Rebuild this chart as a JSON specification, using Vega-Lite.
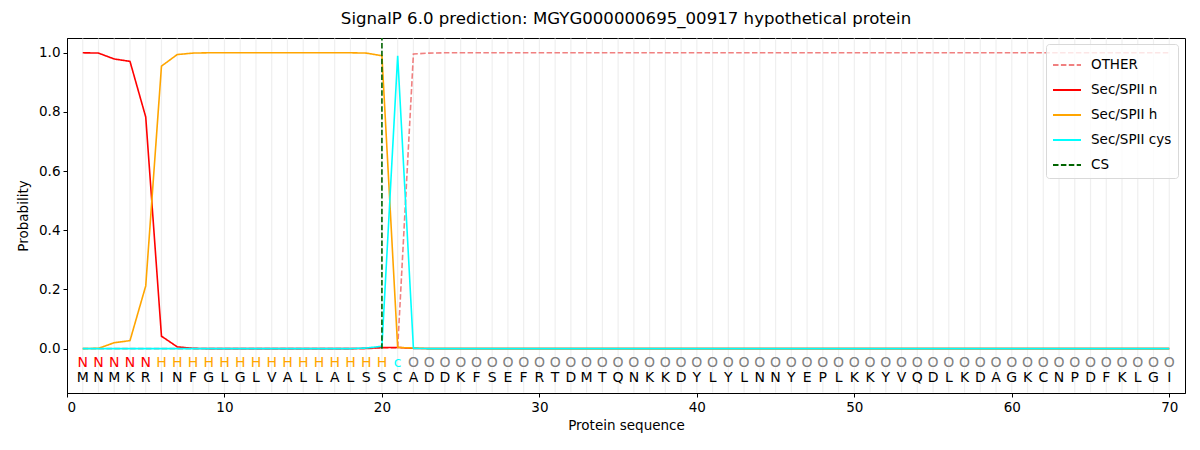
{
  "$schema": "https://vega.github.io/schema/vega-lite/v6.json",
  "autosize": "none",
  "width": 1118,
  "height": 355,
  "padding": {"left": 67, "top": 38, "right": 15, "bottom": 57},
  "background": "white",
  "title": {
    "text": "SignalP 6.0 prediction: MGYG000000695_00917 hypothetical protein",
    "font": "DejaVu Sans",
    "fontSize": 16.6,
    "fontWeight": "normal",
    "color": "black",
    "anchor": "middle",
    "offset": 7
  },
  "config": {
    "font": "DejaVu Sans",
    "view": {"stroke": "black", "strokeWidth": 1},
    "axis": {
      "labelFont": "DejaVu Sans",
      "titleFont": "DejaVu Sans",
      "labelFontSize": 13.5,
      "titleFontSize": 13.5,
      "titleFontWeight": "normal",
      "labelColor": "black",
      "titleColor": "black",
      "domainColor": "black",
      "tickColor": "black",
      "tickSize": 4,
      "grid": false
    }
  },
  "datasets": {
    "res": [
      {"pos": 1, "aa": "M", "lab": "N", "OTHER": 0, "Sec/SPII n": 1.0, "Sec/SPII h": 0, "Sec/SPII cys": 0},
      {"pos": 2, "aa": "N", "lab": "N", "OTHER": 0, "Sec/SPII n": 0.999, "Sec/SPII h": 0.001, "Sec/SPII cys": 0},
      {"pos": 3, "aa": "M", "lab": "N", "OTHER": 0, "Sec/SPII n": 0.979, "Sec/SPII h": 0.02, "Sec/SPII cys": 0},
      {"pos": 4, "aa": "K", "lab": "N", "OTHER": 0, "Sec/SPII n": 0.971, "Sec/SPII h": 0.027, "Sec/SPII cys": 0},
      {"pos": 5, "aa": "R", "lab": "N", "OTHER": 0, "Sec/SPII n": 0.783, "Sec/SPII h": 0.212, "Sec/SPII cys": 0},
      {"pos": 6, "aa": "I", "lab": "H", "OTHER": 0, "Sec/SPII n": 0.042, "Sec/SPII h": 0.955, "Sec/SPII cys": 0},
      {"pos": 7, "aa": "N", "lab": "H", "OTHER": 0, "Sec/SPII n": 0.006, "Sec/SPII h": 0.994, "Sec/SPII cys": 0},
      {"pos": 8, "aa": "F", "lab": "H", "OTHER": 0, "Sec/SPII n": 0.001, "Sec/SPII h": 0.999, "Sec/SPII cys": 0},
      {"pos": 9, "aa": "G", "lab": "H", "OTHER": 0, "Sec/SPII n": 0, "Sec/SPII h": 1.0, "Sec/SPII cys": 0},
      {"pos": 10, "aa": "L", "lab": "H", "OTHER": 0, "Sec/SPII n": 0, "Sec/SPII h": 1.0, "Sec/SPII cys": 0},
      {"pos": 11, "aa": "G", "lab": "H", "OTHER": 0, "Sec/SPII n": 0, "Sec/SPII h": 1.0, "Sec/SPII cys": 0},
      {"pos": 12, "aa": "L", "lab": "H", "OTHER": 0, "Sec/SPII n": 0, "Sec/SPII h": 1.0, "Sec/SPII cys": 0},
      {"pos": 13, "aa": "V", "lab": "H", "OTHER": 0, "Sec/SPII n": 0, "Sec/SPII h": 1.0, "Sec/SPII cys": 0},
      {"pos": 14, "aa": "A", "lab": "H", "OTHER": 0, "Sec/SPII n": 0, "Sec/SPII h": 1.0, "Sec/SPII cys": 0},
      {"pos": 15, "aa": "L", "lab": "H", "OTHER": 0, "Sec/SPII n": 0, "Sec/SPII h": 1.0, "Sec/SPII cys": 0},
      {"pos": 16, "aa": "L", "lab": "H", "OTHER": 0, "Sec/SPII n": 0, "Sec/SPII h": 1.0, "Sec/SPII cys": 0},
      {"pos": 17, "aa": "A", "lab": "H", "OTHER": 0, "Sec/SPII n": 0, "Sec/SPII h": 1.0, "Sec/SPII cys": 0},
      {"pos": 18, "aa": "L", "lab": "H", "OTHER": 0, "Sec/SPII n": 0, "Sec/SPII h": 1.0, "Sec/SPII cys": 0},
      {"pos": 19, "aa": "S", "lab": "H", "OTHER": 0, "Sec/SPII n": 0.001, "Sec/SPII h": 0.999, "Sec/SPII cys": 0.002},
      {"pos": 20, "aa": "S", "lab": "H", "OTHER": 0.002, "Sec/SPII n": 0.004, "Sec/SPII h": 0.99, "Sec/SPII cys": 0.008},
      {"pos": 21, "aa": "C", "lab": "c", "OTHER": 0.002, "Sec/SPII n": 0.004, "Sec/SPII h": 0.004, "Sec/SPII cys": 0.99},
      {"pos": 22, "aa": "A", "lab": "O", "OTHER": 0.996, "Sec/SPII n": 0.001, "Sec/SPII h": 0.002, "Sec/SPII cys": 0.001},
      {"pos": 23, "aa": "D", "lab": "O", "OTHER": 0.999, "Sec/SPII n": 0, "Sec/SPII h": 0, "Sec/SPII cys": 0},
      {"pos": 24, "aa": "D", "lab": "O", "OTHER": 1.0, "Sec/SPII n": 0, "Sec/SPII h": 0, "Sec/SPII cys": 0},
      {"pos": 25, "aa": "K", "lab": "O", "OTHER": 1.0, "Sec/SPII n": 0, "Sec/SPII h": 0, "Sec/SPII cys": 0},
      {"pos": 26, "aa": "F", "lab": "O", "OTHER": 1.0, "Sec/SPII n": 0, "Sec/SPII h": 0, "Sec/SPII cys": 0},
      {"pos": 27, "aa": "S", "lab": "O", "OTHER": 1.0, "Sec/SPII n": 0, "Sec/SPII h": 0, "Sec/SPII cys": 0},
      {"pos": 28, "aa": "E", "lab": "O", "OTHER": 1.0, "Sec/SPII n": 0, "Sec/SPII h": 0, "Sec/SPII cys": 0},
      {"pos": 29, "aa": "F", "lab": "O", "OTHER": 1.0, "Sec/SPII n": 0, "Sec/SPII h": 0, "Sec/SPII cys": 0},
      {"pos": 30, "aa": "R", "lab": "O", "OTHER": 1.0, "Sec/SPII n": 0, "Sec/SPII h": 0, "Sec/SPII cys": 0},
      {"pos": 31, "aa": "T", "lab": "O", "OTHER": 1.0, "Sec/SPII n": 0, "Sec/SPII h": 0, "Sec/SPII cys": 0},
      {"pos": 32, "aa": "D", "lab": "O", "OTHER": 1.0, "Sec/SPII n": 0, "Sec/SPII h": 0, "Sec/SPII cys": 0},
      {"pos": 33, "aa": "M", "lab": "O", "OTHER": 1.0, "Sec/SPII n": 0, "Sec/SPII h": 0, "Sec/SPII cys": 0},
      {"pos": 34, "aa": "T", "lab": "O", "OTHER": 1.0, "Sec/SPII n": 0, "Sec/SPII h": 0, "Sec/SPII cys": 0},
      {"pos": 35, "aa": "Q", "lab": "O", "OTHER": 1.0, "Sec/SPII n": 0, "Sec/SPII h": 0, "Sec/SPII cys": 0},
      {"pos": 36, "aa": "N", "lab": "O", "OTHER": 1.0, "Sec/SPII n": 0, "Sec/SPII h": 0, "Sec/SPII cys": 0},
      {"pos": 37, "aa": "K", "lab": "O", "OTHER": 1.0, "Sec/SPII n": 0, "Sec/SPII h": 0, "Sec/SPII cys": 0},
      {"pos": 38, "aa": "K", "lab": "O", "OTHER": 1.0, "Sec/SPII n": 0, "Sec/SPII h": 0, "Sec/SPII cys": 0},
      {"pos": 39, "aa": "D", "lab": "O", "OTHER": 1.0, "Sec/SPII n": 0, "Sec/SPII h": 0, "Sec/SPII cys": 0},
      {"pos": 40, "aa": "Y", "lab": "O", "OTHER": 1.0, "Sec/SPII n": 0, "Sec/SPII h": 0, "Sec/SPII cys": 0},
      {"pos": 41, "aa": "L", "lab": "O", "OTHER": 1.0, "Sec/SPII n": 0, "Sec/SPII h": 0, "Sec/SPII cys": 0},
      {"pos": 42, "aa": "Y", "lab": "O", "OTHER": 1.0, "Sec/SPII n": 0, "Sec/SPII h": 0, "Sec/SPII cys": 0},
      {"pos": 43, "aa": "L", "lab": "O", "OTHER": 1.0, "Sec/SPII n": 0, "Sec/SPII h": 0, "Sec/SPII cys": 0},
      {"pos": 44, "aa": "N", "lab": "O", "OTHER": 1.0, "Sec/SPII n": 0, "Sec/SPII h": 0, "Sec/SPII cys": 0},
      {"pos": 45, "aa": "N", "lab": "O", "OTHER": 1.0, "Sec/SPII n": 0, "Sec/SPII h": 0, "Sec/SPII cys": 0},
      {"pos": 46, "aa": "Y", "lab": "O", "OTHER": 1.0, "Sec/SPII n": 0, "Sec/SPII h": 0, "Sec/SPII cys": 0},
      {"pos": 47, "aa": "E", "lab": "O", "OTHER": 1.0, "Sec/SPII n": 0, "Sec/SPII h": 0, "Sec/SPII cys": 0},
      {"pos": 48, "aa": "P", "lab": "O", "OTHER": 1.0, "Sec/SPII n": 0, "Sec/SPII h": 0, "Sec/SPII cys": 0},
      {"pos": 49, "aa": "L", "lab": "O", "OTHER": 1.0, "Sec/SPII n": 0, "Sec/SPII h": 0, "Sec/SPII cys": 0},
      {"pos": 50, "aa": "K", "lab": "O", "OTHER": 1.0, "Sec/SPII n": 0, "Sec/SPII h": 0, "Sec/SPII cys": 0},
      {"pos": 51, "aa": "K", "lab": "O", "OTHER": 1.0, "Sec/SPII n": 0, "Sec/SPII h": 0, "Sec/SPII cys": 0},
      {"pos": 52, "aa": "Y", "lab": "O", "OTHER": 1.0, "Sec/SPII n": 0, "Sec/SPII h": 0, "Sec/SPII cys": 0},
      {"pos": 53, "aa": "V", "lab": "O", "OTHER": 1.0, "Sec/SPII n": 0, "Sec/SPII h": 0, "Sec/SPII cys": 0},
      {"pos": 54, "aa": "Q", "lab": "O", "OTHER": 1.0, "Sec/SPII n": 0, "Sec/SPII h": 0, "Sec/SPII cys": 0},
      {"pos": 55, "aa": "D", "lab": "O", "OTHER": 1.0, "Sec/SPII n": 0, "Sec/SPII h": 0, "Sec/SPII cys": 0},
      {"pos": 56, "aa": "L", "lab": "O", "OTHER": 1.0, "Sec/SPII n": 0, "Sec/SPII h": 0, "Sec/SPII cys": 0},
      {"pos": 57, "aa": "K", "lab": "O", "OTHER": 1.0, "Sec/SPII n": 0, "Sec/SPII h": 0, "Sec/SPII cys": 0},
      {"pos": 58, "aa": "D", "lab": "O", "OTHER": 1.0, "Sec/SPII n": 0, "Sec/SPII h": 0, "Sec/SPII cys": 0},
      {"pos": 59, "aa": "A", "lab": "O", "OTHER": 1.0, "Sec/SPII n": 0, "Sec/SPII h": 0, "Sec/SPII cys": 0},
      {"pos": 60, "aa": "G", "lab": "O", "OTHER": 1.0, "Sec/SPII n": 0, "Sec/SPII h": 0, "Sec/SPII cys": 0},
      {"pos": 61, "aa": "K", "lab": "O", "OTHER": 1.0, "Sec/SPII n": 0, "Sec/SPII h": 0, "Sec/SPII cys": 0},
      {"pos": 62, "aa": "C", "lab": "O", "OTHER": 1.0, "Sec/SPII n": 0, "Sec/SPII h": 0, "Sec/SPII cys": 0},
      {"pos": 63, "aa": "N", "lab": "O", "OTHER": 1.0, "Sec/SPII n": 0, "Sec/SPII h": 0, "Sec/SPII cys": 0},
      {"pos": 64, "aa": "P", "lab": "O", "OTHER": 1.0, "Sec/SPII n": 0, "Sec/SPII h": 0, "Sec/SPII cys": 0},
      {"pos": 65, "aa": "D", "lab": "O", "OTHER": 1.0, "Sec/SPII n": 0, "Sec/SPII h": 0, "Sec/SPII cys": 0},
      {"pos": 66, "aa": "F", "lab": "O", "OTHER": 1.0, "Sec/SPII n": 0, "Sec/SPII h": 0, "Sec/SPII cys": 0},
      {"pos": 67, "aa": "K", "lab": "O", "OTHER": 1.0, "Sec/SPII n": 0, "Sec/SPII h": 0, "Sec/SPII cys": 0},
      {"pos": 68, "aa": "L", "lab": "O", "OTHER": 1.0, "Sec/SPII n": 0, "Sec/SPII h": 0, "Sec/SPII cys": 0},
      {"pos": 69, "aa": "G", "lab": "O", "OTHER": 1.0, "Sec/SPII n": 0, "Sec/SPII h": 0, "Sec/SPII cys": 0},
      {"pos": 70, "aa": "I", "lab": "O", "OTHER": 1.0, "Sec/SPII n": 0, "Sec/SPII h": 0, "Sec/SPII cys": 0}
    ],
    "cs": [
      {"pos": 20, "p": 0, "series": "CS"},
      {"pos": 20, "p": 1.05, "series": "CS"}
    ]
  },
  "encoding": {
    "x": {
      "field": "pos",
      "type": "quantitative",
      "title": "Protein sequence",
      "scale": {"domain": [0, 71], "nice": false, "zero": false},
      "axis": {"values": [0, 10, 20, 30, 40, 50, 60, 70], "titlePadding": 5, "labelPadding": 3}
    }
  },
  "layer": [
    {
      "data": {"name": "res"},
      "mark": {"type": "rule", "color": "#efefef", "strokeWidth": 1.2},
      "encoding": {
        "y": {"datum": -0.148, "type": "quantitative", "scale": {"domain": [-0.15, 1.05], "nice": false, "zero": false}},
        "y2": {"datum": 1.048}
      }
    },
    {
      "data": {"name": "res"},
      "transform": [
        {"fold": ["OTHER", "Sec/SPII n", "Sec/SPII h", "Sec/SPII cys"], "as": ["series", "p"]}
      ],
      "mark": {"type": "line", "strokeWidth": 1.6},
      "encoding": {
        "y": {
          "field": "p",
          "type": "quantitative",
          "title": "Probability",
          "scale": {"domain": [-0.15, 1.05], "nice": false, "zero": false},
          "axis": {"values": [0, 0.2, 0.4, 0.6, 0.8, 1.0], "format": ".1f", "titlePadding": 8, "labelPadding": 3}
        },
        "color": {
          "field": "series",
          "type": "nominal",
          "scale": {
            "domain": ["OTHER", "Sec/SPII n", "Sec/SPII h", "Sec/SPII cys", "CS"],
            "range": ["#f08080", "#ff0000", "#ffa500", "#00ffff", "#006400"]
          },
          "legend": {
            "title": null,
            "orient": "none",
            "legendX": 979,
            "legendY": 6,
            "symbolType": "stroke",
            "symbolSize": 784,
            "symbolStrokeWidth": 2,
            "labelFontSize": 13.5,
            "labelFont": "DejaVu Sans",
            "labelColor": "black",
            "labelOffset": 9,
            "rowPadding": 3,
            "padding": 6,
            "strokeColor": "#d9d9d9",
            "fillColor": "rgba(255,255,255,0.8)",
            "cornerRadius": 3
          }
        },
        "strokeDash": {
          "field": "series",
          "type": "nominal",
          "scale": {
            "domain": ["OTHER", "Sec/SPII n", "Sec/SPII h", "Sec/SPII cys", "CS"],
            "range": [[5.5, 2.4], [1, 0], [1, 0], [1, 0], [5.5, 2.4]]
          },
          "legend": null
        },
        "order": {"field": "pos", "type": "quantitative"}
      }
    },
    {
      "data": {"name": "cs"},
      "mark": {"type": "line", "strokeWidth": 1.6},
      "encoding": {
        "y": {"field": "p", "type": "quantitative"},
        "color": {"field": "series", "type": "nominal"},
        "strokeDash": {"field": "series", "type": "nominal"}
      }
    },
    {
      "data": {"name": "res"},
      "mark": {"type": "text", "fontSize": 14, "font": "DejaVu Sans", "baseline": "middle"},
      "encoding": {
        "y": {"datum": -0.047},
        "text": {"field": "lab"},
        "color": {
          "condition": [
            {"test": "datum.lab === 'N'", "value": "#ff0000"},
            {"test": "datum.lab === 'H'", "value": "#ffa500"},
            {"test": "datum.lab === 'c'", "value": "#00ffff"}
          ],
          "value": "#808080"
        }
      }
    },
    {
      "data": {"name": "res"},
      "mark": {"type": "text", "fontSize": 14, "font": "DejaVu Sans", "baseline": "middle", "color": "black"},
      "encoding": {
        "y": {"datum": -0.1},
        "text": {"field": "aa"}
      }
    }
  ]
}
